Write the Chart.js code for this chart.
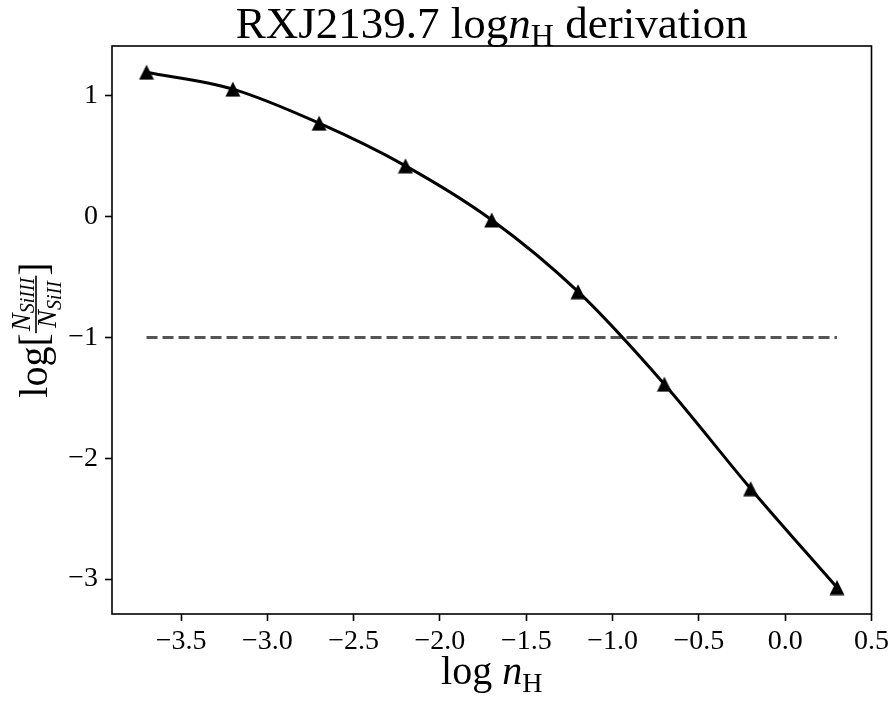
<!DOCTYPE html>
<html>
<head>
<meta charset="utf-8">
<script src="https://cdn.jsdelivr.net/npm/chart.js@4.4.0/dist/chart.umd.min.js"></script>
<style>
  html, body { margin: 0; padding: 0; background: #fff; }
  #wrap { width: 893px; height: 702px; }
</style>
</head>
<body>
<div id="wrap"><canvas id="nhChart" width="893" height="702"></canvas></div>
<script>
// model grid: log n_H against log(N_SiIII / N_SiII)
const logNH = [-3.7, -3.2, -2.7, -2.2, -1.7, -1.2, -0.7, -0.2, 0.3];
const logRatio = [1.196, 1.056, 0.774, 0.421, -0.027, -0.621, -1.387, -2.252, -3.070];
// measured column density ratio
const observedRatio = -1.0;

const xTicks = [-3.5, -3.0, -2.5, -2.0, -1.5, -1.0, -0.5, 0.0, 0.5];
const yTicks = [-3, -2, -1, 0, 1];
const xRange = [-3.9, 0.5];
const yRange = [-3.289, 1.413];

const SERIF = '"Liberation Serif", "DejaVu Serif", serif';

function fmtMinus(v, digits) {
    const s = Math.abs(v).toFixed(digits);
    return v < -1e-9 ? '\u2212' + s : s;
}

// filled upward triangle used as the marker
function makeTriangle(size) {
    const c = document.createElement('canvas');
    c.width = size;
    c.height = size;
    const g = c.getContext('2d');
    g.fillStyle = '#000';
    g.beginPath();
    g.moveTo(size / 2, 0.5);
    g.lineTo(size - 0.5, size - 0.5);
    g.lineTo(0.5, size - 0.5);
    g.closePath();
    g.fill();
    return c;
}

function font(size, italic) {
    return (italic ? 'italic ' : '') + size + 'px ' + SERIF;
}

// draws a row of text pieces (normal / italic / subscript) centred on x
function drawRuns(ctx, runs, x, y) {
    let total = 0;
    runs.forEach(r => {
        ctx.font = font(r.size, r.italic);
        r.w = ctx.measureText(r.t).width;
        total += r.w;
    });
    let cx = x - total / 2;
    ctx.textAlign = 'left';
    ctx.textBaseline = 'alphabetic';
    runs.forEach(r => {
        ctx.font = font(r.size, r.italic);
        ctx.fillText(r.t, cx, y + (r.dy || 0));
        cx += r.w;
    });
}

const framePlugin = {
    id: 'frame',
    afterDatasetsDraw(chart) {
        const { ctx, chartArea: a } = chart;
        ctx.save();
        ctx.strokeStyle = '#000';
        ctx.lineWidth = 1.6;
        ctx.strokeRect(a.left, a.top, a.right - a.left, a.bottom - a.top);
        ctx.restore();
    }
};

const labelsPlugin = {
    id: 'labels',
    afterDraw(chart) {
        const { ctx, chartArea: a } = chart;
        const mid = (a.left + a.right) / 2;
        ctx.save();
        ctx.fillStyle = '#000';

        // title
        drawRuns(ctx, [
            { t: 'RXJ2139.7 log', size: 45 },
            { t: 'n', size: 45, italic: true },
            { t: 'H', size: 32, dy: 8 },
            { t: ' derivation', size: 45 }
        ], mid, 38);

        // x axis label
        drawRuns(ctx, [
            { t: 'log ', size: 40 },
            { t: 'n', size: 40, italic: true },
            { t: 'H', size: 28, dy: 8 }
        ], mid, 684);

        // y axis label: log[ N_SiIII / N_SiII ]
        const cy = (a.top + a.bottom) / 2;
        ctx.translate(47, cy);
        ctx.rotate(-Math.PI / 2);
        ctx.textAlign = 'left';
        ctx.textBaseline = 'alphabetic';

        const big = 40, nSize = 27, subSize = 20;
        ctx.font = font(big);
        const wLog = ctx.measureText('log').width;
        const wOpen = ctx.measureText('[').width;
        const wClose = ctx.measureText(']').width;
        ctx.font = font(nSize, true);
        const wN = ctx.measureText('N').width;
        ctx.font = font(subSize, true);
        const wNum = wN + ctx.measureText('SiIII').width;
        const wDen = wN + ctx.measureText('SiII').width;
        const wFrac = Math.max(wNum, wDen) + 4;
        const total = wLog + wOpen + wFrac + wClose;

        let u = -total / 2;
        ctx.font = font(big);
        ctx.fillText('log', u, 0);
        u += wLog;
        ctx.fillText('[', u, 0);
        u += wOpen;

        const bar = -11;
        const numX = u + (wFrac - wNum) / 2;
        ctx.font = font(nSize, true);
        ctx.fillText('N', numX, bar - 6);
        ctx.font = font(subSize, true);
        ctx.fillText('SiIII', numX + wN, bar - 2);

        const denX = u + (wFrac - wDen) / 2;
        ctx.font = font(nSize, true);
        ctx.fillText('N', denX, 9);
        ctx.font = font(subSize, true);
        ctx.fillText('SiII', denX + wN, 14);

        ctx.fillRect(u, bar - 0.8, wFrac, 1.6);
        u += wFrac;
        ctx.font = font(big);
        ctx.fillText(']', u, 0);

        ctx.restore();
    }
};

const ctx = document.getElementById('nhChart').getContext('2d');

new Chart(ctx, {
    type: 'line',
    data: {
        datasets: [
            {
                label: 'model',
                data: logNH.map((x, i) => ({ x: x, y: logRatio[i] })),
                borderColor: '#000',
                backgroundColor: '#000',
                borderWidth: 3,
                pointStyle: makeTriangle(16),
                pointRadius: 8,
                cubicInterpolationMode: 'monotone',
                fill: false
            },
            {
                label: 'observed',
                data: [
                    { x: logNH[0], y: observedRatio },
                    { x: logNH[logNH.length - 1], y: observedRatio }
                ],
                borderColor: '#555555',
                borderWidth: 3,
                borderDash: [11, 5],
                pointRadius: 0,
                fill: false
            }
        ]
    },
    options: {
        responsive: false,
        animation: false,
        layout: { padding: { top: 46, right: 19, left: 0, bottom: 0 } },
        plugins: {
            legend: { display: false },
            tooltip: { enabled: false },
            title: { display: false }
        },
        scales: {
            x: {
                type: 'linear',
                min: xRange[0],
                max: xRange[1],
                afterBuildTicks: s => { s.ticks = xTicks.map(v => ({ value: v })); },
                afterFit: s => { s.height = 88; },
                border: { display: false },
                grid: {
                    drawOnChartArea: false,
                    drawTicks: true,
                    tickLength: 7,
                    tickWidth: 1.6,
                    tickColor: '#000'
                },
                ticks: {
                    color: '#000',
                    padding: 4,
                    maxRotation: 0,
                    font: { family: SERIF, size: 28 },
                    callback: v => fmtMinus(v, 1)
                }
            },
            y: {
                type: 'linear',
                min: yRange[0],
                max: yRange[1],
                afterBuildTicks: s => { s.ticks = yTicks.map(v => ({ value: v })); },
                afterFit: s => { s.width = 112; },
                border: { display: false },
                grid: {
                    drawOnChartArea: false,
                    drawTicks: true,
                    tickLength: 7,
                    tickWidth: 1.6,
                    tickColor: '#000'
                },
                ticks: {
                    color: '#000',
                    padding: 7,
                    font: { family: SERIF, size: 28 },
                    callback: v => fmtMinus(v, 0)
                }
            }
        }
    },
    plugins: [framePlugin, labelsPlugin]
});
</script>
</body>
</html>
